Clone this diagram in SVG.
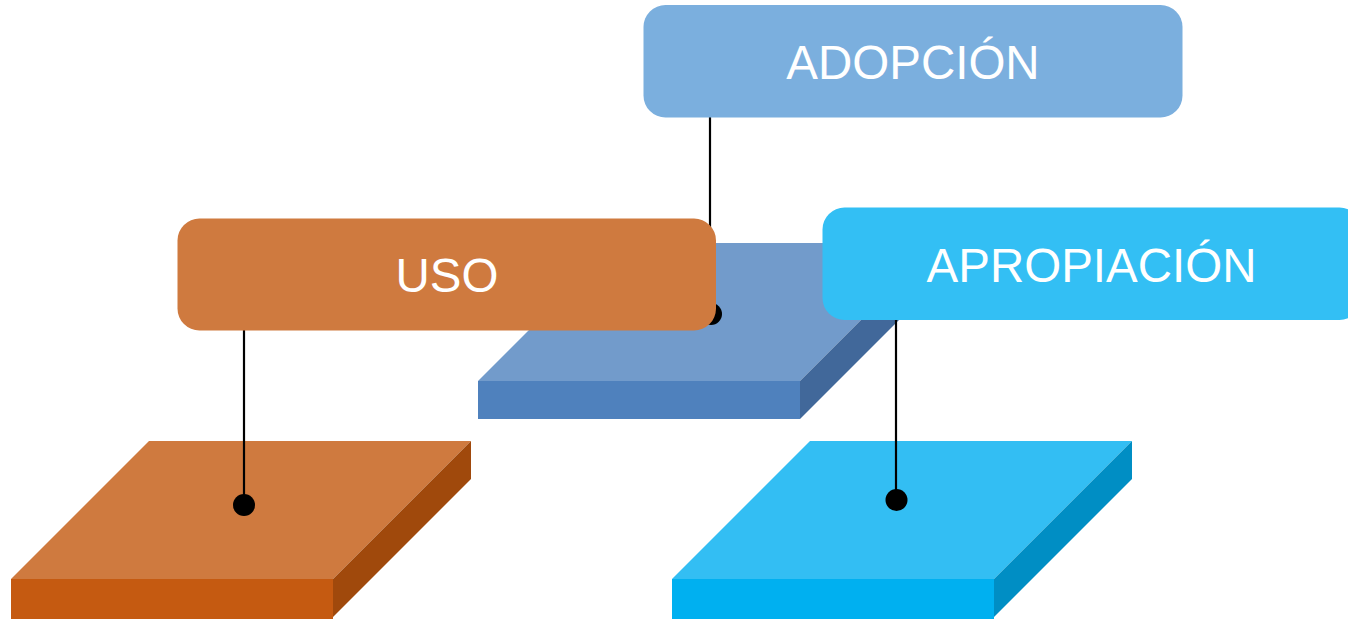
<svg xmlns="http://www.w3.org/2000/svg" width="1348" height="619" viewBox="0 0 1348 619">
<style>
.lbl{font-family:"Liberation Sans",Arial,sans-serif;font-size:47.5px;fill:#ffffff;text-anchor:middle}
.conn{stroke:#000000;stroke-width:2.2;fill:none}
.dot{fill:#000000}
</style>
<rect width="1348" height="619" fill="#ffffff"/>
<g id="slab-adopcion">
<polygon points="478,381 616,243 938,243 800,381" fill="#729BCB"/>
<rect x="478" y="381" width="322" height="38" fill="#4F81BD"/>
<polygon points="800,381 938,243 938,281 800,419" fill="#41689A"/>
</g>
<g id="slab-uso">
<polygon points="11,579 149,441 471,441 333,579" fill="#CF7A3F"/>
<rect x="11" y="579" width="322" height="40" fill="#C55A11"/>
<polygon points="333,579 471,441 471,479 333,617" fill="#A0490C"/>
</g>
<g id="slab-apropiacion">
<polygon points="672,579 810,441 1132,441 994,579" fill="#33BEF3"/>
<rect x="672" y="579" width="322" height="40" fill="#00B0F0"/>
<polygon points="994,579 1132,441 1132,479 994,617" fill="#008EC4"/>
</g>
<g id="connectors">
<line class="conn" x1="710" y1="117" x2="710" y2="314"/>
<circle class="dot" cx="711" cy="314" r="11"/>
<line class="conn" x1="244" y1="330" x2="244" y2="505"/>
<circle class="dot" cx="244" cy="505" r="11"/>
<line class="conn" x1="896" y1="319" x2="896" y2="500"/>
<circle class="dot" cx="896.5" cy="500" r="11"/>
</g>
<g id="node-adopcion">
<rect x="643.5" y="5" width="539" height="112.5" rx="22" fill="#7BAFDE"/>
<text class="lbl" x="913" y="79">ADOPCIÓN</text>
</g>
<g id="node-uso">
<rect x="177.5" y="218.5" width="538.5" height="112" rx="22" fill="#CF7A3F"/>
<text class="lbl" x="447" y="292">USO</text>
</g>
<g id="node-apropiacion">
<rect x="822.5" y="207.5" width="539" height="112.5" rx="22" fill="#33BFF4"/>
<text class="lbl" x="1091.5" y="282">APROPIACIÓN</text>
</g>
</svg>
